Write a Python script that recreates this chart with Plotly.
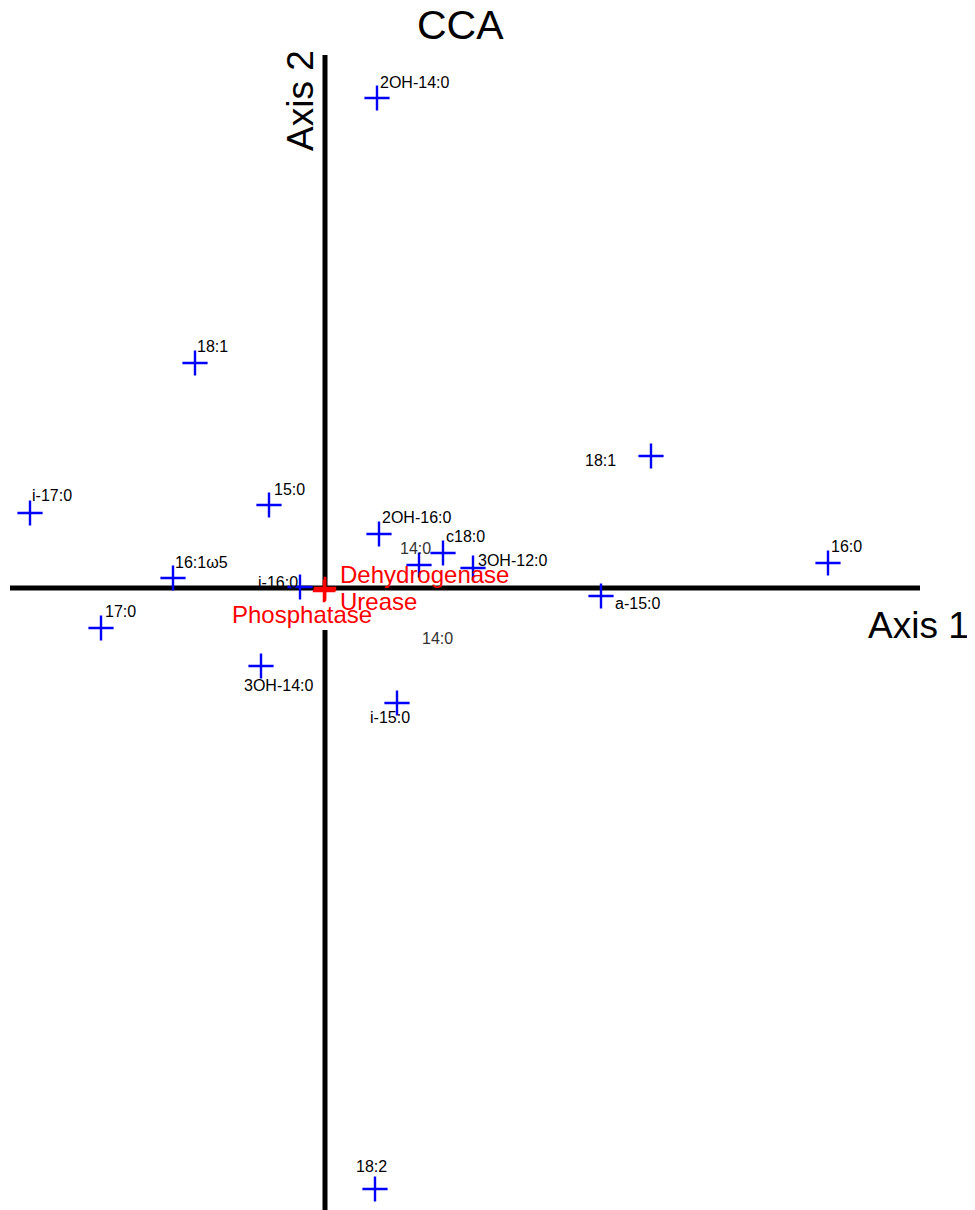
import plotly.graph_objects as go

# ---- data (CCA scores) ----
fatty_acids = ["2OH-14:0", "18:1", "18:1", "i-17:0", "15:0", "2OH-16:0", "c18:0", "14:0",
               "3OH-12:0", "16:0", "16:1ω5", "i-16:0", "a-15:0", "17:0", "3OH-14:0", "i-15:0", "18:2"]
axis1_fa = [0.52, -1.30, 3.26, -2.95, -0.56, 0.54, 1.18, 0.94,
            1.48, 5.03, -1.52, -0.25, 2.76, -2.24, -0.64, 0.72, 0.50]
axis2_fa = [4.90, 2.25, 1.32, 0.75, 0.83, 0.54, 0.35, 0.23,
            0.20, 0.25, 0.10, 0.01, -0.08, -0.40, -0.78, -1.15, -6.01]

enzymes = ["Dehydrogenase", "Urease", "Phosphatase"]
axis1_enz = [0.00, 0.00, -0.01]
axis2_enz = [0.00, -0.02, -0.03]

# stray label in the original (no marker)
stray_label = "14:0"
stray_xy = (1.12, -0.50)

# ---- label placement (style): xanchor, xshift, yshift, colour ----
fa_label_style = [
    ("left", 1, 16, "black"), ("left", 0, 17, "black"), ("right", -33, -4, "black"),
    ("left", 0, 18, "black"), ("left", 3, 16, "black"), ("left", 1, 17, "black"),
    ("left", 1, 17, "black"), ("center", -4, 17, "#333333"), ("left", 3, 8, "black"),
    ("left", 1, 17, "black"), ("left", 0, 16, "black"), ("right", 0, 5, "black"),
    ("left", 12, -7, "black"), ("left", 2, 17, "black"), ("center", 17, -19, "black"),
    ("center", -7, -14, "black"), ("center", -4, 23, "black"),
]
enz_label_style = [("left", 13, 14), ("left", 13, -11), ("center", -22, -23)]

FONT = "Arial, Liberation Sans, sans-serif"
OFF = 8  # page body margin

fig = go.Figure()

# axes lines (vertical one interrupted under the Phosphatase label)
fig.add_shape(type="line", x0=-3.15, x1=5.95, y0=0, y1=0, line=dict(color="black", width=5), layer="below")
fig.add_shape(type="line", x0=0.0, x1=0.0, y0=-0.04, y1=5.33, line=dict(color="black", width=5), layer="below")
fig.add_shape(type="line", x0=0.0, x1=0.0, y0=-6.40, y1=-0.42, line=dict(color="black", width=5), layer="below")

fig.add_trace(go.Scatter(
    x=axis1_fa, y=axis2_fa, mode="markers", text=fatty_acids, hoverinfo="text",
    marker=dict(symbol="cross-thin", size=18, line=dict(color="blue", width=2.4), color="blue"),
    showlegend=False))
fig.add_trace(go.Scatter(
    x=axis1_enz, y=axis2_enz, mode="markers", text=enzymes, hoverinfo="text",
    marker=dict(symbol="cross-thin", size=16, line=dict(color="red", width=2.5), color="red"),
    showlegend=False))

for name, x, y, (xa, xs, ys, col) in zip(fatty_acids, axis1_fa, axis2_fa, fa_label_style):
    fig.add_annotation(x=x, y=y, text=name, showarrow=False, xanchor=xa, yanchor="middle",
                       xshift=xs, yshift=ys, font=dict(family=FONT, size=16, color=col))

fig.add_annotation(x=stray_xy[0], y=stray_xy[1], text=stray_label, showarrow=False,
                   xanchor="center", yanchor="middle", font=dict(family=FONT, size=16, color="#333333"))

for name, x, y, (xa, xs, ys) in zip(enzymes, axis1_enz, axis2_enz, enz_label_style):
    fig.add_annotation(x=x, y=y, text=name, showarrow=False, xanchor=xa, yanchor="middle",
                       xshift=xs, yshift=ys, font=dict(family=FONT, size=24, color="red"))

W, H = 975, 1210
fig.add_annotation(xref="paper", yref="paper", x=(460 - OFF) / W, y=1 - (25 - OFF) / H, text="CCA",
                   showarrow=False, xanchor="center", yanchor="middle",
                   font=dict(family=FONT, size=41, color="black"))
fig.add_annotation(xref="paper", yref="paper", x=(971 - OFF) / W, y=1 - (625 - OFF) / H, text="Axis 1",
                   showarrow=False, xanchor="right", yanchor="middle",
                   font=dict(family=FONT, size=37, color="black"))
fig.add_annotation(xref="paper", yref="paper", x=(300 - OFF) / W, y=1 - (101 - OFF) / H, text="Axis 2",
                   showarrow=False, textangle=-90, xanchor="center", yanchor="middle",
                   font=dict(family=FONT, size=37, color="black"))

fig.update_layout(
    width=W, height=H, margin=dict(l=0, r=0, t=0, b=0),
    paper_bgcolor="white", plot_bgcolor="white",
    xaxis=dict(range=[-3.17, 6.58], visible=False, showgrid=False, zeroline=False),
    yaxis=dict(range=[-6.30, 5.80], visible=False, showgrid=False, zeroline=False),
)

fig.write_html("out.html")
